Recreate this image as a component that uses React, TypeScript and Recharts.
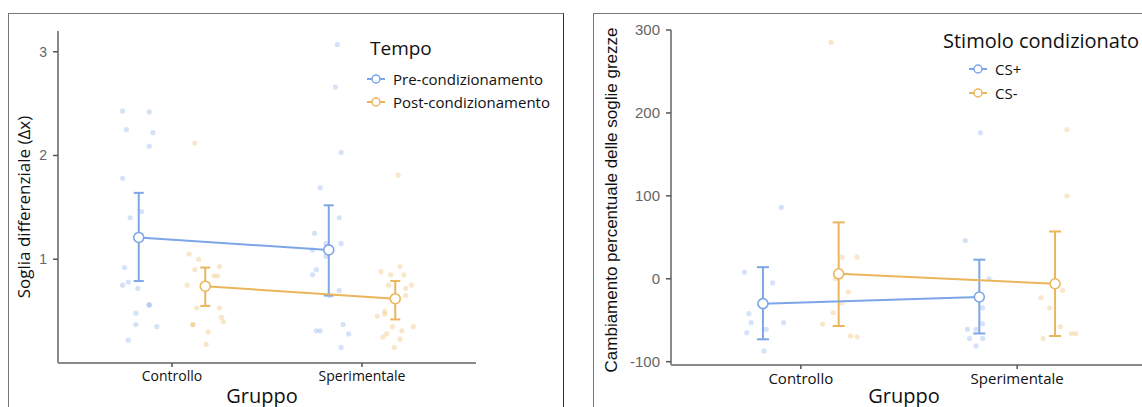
import React from 'react';
import { ScatterChart, Scatter, XAxis, YAxis, ErrorBar } from 'recharts';

const gruppi = ['Controllo', 'Sperimentale'];

// pannello sinistro: soglia differenziale, punti singoli [x, y]
const preControllo = [
  [0.74, 2.43], [0.88, 2.42], [0.76, 2.25], [0.9, 2.22], [0.88, 2.09], [0.74, 1.78],
  [0.78, 1.4], [0.84, 1.46], [0.75, 0.92], [0.77, 0.78], [0.74, 0.75], [0.82, 0.72],
  [0.88, 0.56], [0.88, 0.56], [0.81, 0.48], [0.81, 0.37], [0.92, 0.35], [0.77, 0.22],
];
const postControllo = [
  [1.12, 2.12], [1.09, 1.05], [1.14, 1.0], [1.12, 0.9], [1.25, 0.93], [1.22, 0.84],
  [1.24, 0.84], [1.08, 0.75], [1.13, 0.53], [1.25, 0.53], [1.26, 0.44], [1.27, 0.4],
  [1.11, 0.37], [1.11, 0.37], [1.19, 0.3], [1.18, 0.18],
];
const preSperimentale = [
  [1.87, 3.07], [1.86, 2.66], [1.89, 2.03], [1.78, 1.69], [1.88, 1.4], [1.75, 1.25],
  [1.81, 1.15], [1.89, 1.15], [1.74, 1.09], [1.81, 1.03], [1.76, 0.9], [1.74, 0.85],
  [1.88, 0.7], [1.83, 0.65], [1.76, 0.31], [1.78, 0.31], [1.9, 0.37], [1.93, 0.28], [1.89, 0.15],
];
const postSperimentale = [
  [2.19, 1.81], [2.2, 0.93], [2.1, 0.88], [2.15, 0.85], [2.22, 0.85], [2.14, 0.75],
  [2.23, 0.72], [2.26, 0.75], [2.23, 0.65], [2.12, 0.5], [2.08, 0.45], [2.12, 0.47],
  [2.16, 0.35], [2.27, 0.35], [2.21, 0.31], [2.13, 0.28], [2.11, 0.25], [2.2, 0.23], [2.17, 0.15],
];
const preMedie = [1.21, 1.09];
const preBassi = [0.79, 0.65];
const preAlti = [1.64, 1.52];
const postMedie = [0.74, 0.62];
const postBassi = [0.55, 0.42];
const postAlti = [0.92, 0.79];

// pannello destro: cambiamento percentuale
const csPiuControllo = [
  [0.91, 86], [0.74, 8], [0.87, -5], [0.76, -42], [0.77, -53], [0.92, -53],
  [0.84, -61], [0.75, -65], [0.83, -87],
];
const csMenoControllo = [
  [1.14, 285], [1.19, 26], [1.26, 26], [1.16, 0], [1.22, -16], [1.19, -29],
  [1.15, -41], [1.1, -55], [1.23, -69], [1.26, -70],
];
const csPiuSperimentale = [
  [1.83, 176], [1.76, 46], [1.87, 0], [1.84, -35], [1.84, -54], [1.77, -61],
  [1.81, -61], [1.78, -72], [1.84, -72], [1.81, -81],
];
const csMenoSperimentale = [
  [2.23, 180], [2.23, 100], [2.21, -14], [2.11, -23], [2.15, -35], [2.2, -58],
  [2.25, -66], [2.27, -66], [2.12, -72],
];
const csPiuMedie = [-30, -22];
const csPiuBassi = [-73, -66];
const csPiuAlti = [14, 23];
const csMenoMedie = [6, -6];
const csMenoBassi = [-57, -69];
const csMenoAlti = [68, 57];

const BLUE = '#7da6e6';
const ORANGE = '#ebb55c';
const DODGE = 0.175;
const FONT = '"Open Sans", Lato, sans-serif';

const punti = (arr: number[][]) => arr.map(([x, y]) => ({ x, y }));

const medie = (m: number[], lo: number[], hi: number[], shift: number) =>
  gruppi.map((g, i) => ({ x: i + 1 + shift, y: m[i], err: [m[i] - lo[i], hi[i] - m[i]] }));

const Jitter = (color: string) => (props: any) =>
  <circle cx={props.cx} cy={props.cy} r={2.6} fill={color} fillOpacity={0.32} />;

const Media = (color: string) => (props: any) =>
  <circle cx={props.cx} cy={props.cy} r={5} fill="#fff" stroke={color} strokeWidth={1.6} />;

const LegendMark = ({ color }: { color: string }) => (
  <svg width={20} height={10} style={{ display: 'block' }}>
    <line x1={1} y1={5} x2={19} y2={5} stroke={color} strokeWidth={2} />
    <circle cx={10} cy={5} r={4} fill="#fff" stroke={color} strokeWidth={1.5} />
  </svg>
);

const Legenda = ({ left, top, title, items, titleSize, itemSize, gap, itemTop, textLeft }: any) => (
  <div style={{ position: 'absolute', left, top, fontFamily: FONT, color: '#111' }}>
    <div style={{ fontSize: titleSize, lineHeight: '24px', whiteSpace: 'nowrap' }}>{title}</div>
    {items.map((it: any, i: number) => (
      <div key={it.name} style={{ position: 'absolute', top: itemTop + i * gap, left: textLeft[0], display: 'flex', alignItems: 'center', whiteSpace: 'nowrap', height: 20 }}>
        <LegendMark color={it.color} />
        <span style={{ fontSize: itemSize, marginLeft: textLeft[1] }}>{it.name}</span>
      </div>
    ))}
  </div>
);

const Titolo = ({ x, y, size, rotate, family, children }: any) => (
  <div style={{
    position: 'absolute', left: x, top: y, fontSize: size, fontFamily: family || FONT, color: '#111',
    whiteSpace: 'nowrap', transform: `translate(-50%, -50%)${rotate ? ' rotate(-90deg)' : ''}`,
  }}>{children}</div>
);

const axisLine = { stroke: '#8a8a8a', strokeWidth: 2 };
const tickLine = { stroke: '#555', strokeWidth: 1.5 };

export default function App() {
  return (
    <div style={{ position: 'absolute', left: 0, top: 0, width: 1142, height: 407, overflow: 'hidden', background: '#fff' }}>
      {/* cornici */}
      <div style={{ position: 'absolute', left: 8, top: 13, width: 554, height: 420, border: '1.5px solid #777', borderRightColor: '#333' }} />
      <div style={{ position: 'absolute', left: 593, top: 13, width: 600, height: 420, border: '1.5px solid #777' }} />

      <div style={{ position: 'absolute', left: 0, top: 0 }}>
        <ScatterChart width={563} height={407} margin={{ top: 31, right: 87, bottom: 14, left: 28 }}>
          <XAxis type="number" dataKey="x" domain={[0.4, 2.6]} ticks={[1, 2]} allowDataOverflow interval={0}
            tickFormatter={(v: number) => gruppi[v - 1]} height={30} tickSize={4} tickMargin={4}
            axisLine={axisLine} tickLine={tickLine} tick={{ fill: '#111', fontSize: 14, fontFamily: FONT }} />
          <YAxis type="number" dataKey="y" domain={[0, 3.2]} ticks={[1, 2, 3]} allowDataOverflow width={30}
            tickSize={5} tickMargin={6} axisLine={axisLine} tickLine={tickLine}
            tick={{ fill: '#666', fontSize: 14, fontFamily: 'Liberation Sans, Arial' }} />
          <Scatter data={punti(preControllo)} shape={Jitter(BLUE)} isAnimationActive={false} />
          <Scatter data={punti(preSperimentale)} shape={Jitter(BLUE)} isAnimationActive={false} />
          <Scatter data={punti(postControllo)} shape={Jitter(ORANGE)} isAnimationActive={false} />
          <Scatter data={punti(postSperimentale)} shape={Jitter(ORANGE)} isAnimationActive={false} />
          <Scatter data={medie(preMedie, preBassi, preAlti, -DODGE)} line={{ stroke: BLUE, strokeWidth: 2 }}
            shape={Media(BLUE)} isAnimationActive={false}>
            <ErrorBar dataKey="err" direction="y" width={5} stroke={BLUE} strokeWidth={2} />
          </Scatter>
          <Scatter data={medie(postMedie, postBassi, postAlti, DODGE)} line={{ stroke: ORANGE, strokeWidth: 2 }}
            shape={Media(ORANGE)} isAnimationActive={false}>
            <ErrorBar dataKey="err" direction="y" width={5} stroke={ORANGE} strokeWidth={2} />
          </Scatter>
        </ScatterChart>
      </div>

      <div style={{ position: 'absolute', left: 593, top: 0 }}>
        <ScatterChart width={600} height={407} margin={{ top: 30, right: 46, bottom: 12, left: 38 }}>
          <XAxis type="number" dataKey="x" domain={[0.4, 2.6]} ticks={[1, 2]} allowDataOverflow interval={0}
            tickFormatter={(v: number) => gruppi[v - 1]} height={30} tickSize={4} tickMargin={4}
            axisLine={axisLine} tickLine={tickLine} tick={{ fill: '#111', fontSize: 15, fontFamily: FONT }} />
          <YAxis type="number" dataKey="y" domain={[-104, 300]} ticks={[-100, 0, 100, 200, 300]} allowDataOverflow width={40}
            tickSize={5} tickMargin={6} axisLine={axisLine} tickLine={tickLine}
            tick={{ fill: '#666', fontSize: 15, fontFamily: 'Liberation Sans, Arial' }} />
          <Scatter data={punti(csPiuControllo)} shape={Jitter(BLUE)} isAnimationActive={false} />
          <Scatter data={punti(csPiuSperimentale)} shape={Jitter(BLUE)} isAnimationActive={false} />
          <Scatter data={punti(csMenoControllo)} shape={Jitter(ORANGE)} isAnimationActive={false} />
          <Scatter data={punti(csMenoSperimentale)} shape={Jitter(ORANGE)} isAnimationActive={false} />
          <Scatter data={medie(csPiuMedie, csPiuBassi, csPiuAlti, -DODGE)} line={{ stroke: BLUE, strokeWidth: 2 }}
            shape={Media(BLUE)} isAnimationActive={false}>
            <ErrorBar dataKey="err" direction="y" width={6} stroke={BLUE} strokeWidth={2} />
          </Scatter>
          <Scatter data={medie(csMenoMedie, csMenoBassi, csMenoAlti, DODGE)} line={{ stroke: ORANGE, strokeWidth: 2 }}
            shape={Media(ORANGE)} isAnimationActive={false}>
            <ErrorBar dataKey="err" direction="y" width={6} stroke={ORANGE} strokeWidth={2} />
          </Scatter>
        </ScatterChart>
      </div>

      <Titolo x={23} y={207} size={17} rotate>Soglia differenziale (Δx)</Titolo>
      <Titolo x={262} y={395} size={20}>Gruppo</Titolo>
      <Titolo x={612} y={200} size={17} rotate family="Liberation Sans, Arial">Cambiamento percentuale delle soglie grezze</Titolo>
      <Titolo x={904} y={395} size={20}>Gruppo</Titolo>

      <Legenda left={370} top={36} title="Tempo" titleSize={19} itemSize={15} gap={23} itemTop={33} textLeft={[-4, 7]}
        items={[{ name: 'Pre-condizionamento', color: BLUE }, { name: 'Post-condizionamento', color: ORANGE }]} />
      <Legenda left={943} top={29} title="Stimolo condizionato" titleSize={20} itemSize={15} gap={24} itemTop={30} textLeft={[25, 7]}
        items={[{ name: 'CS+', color: BLUE }, { name: 'CS-', color: ORANGE }]} />
    </div>
  );
}
